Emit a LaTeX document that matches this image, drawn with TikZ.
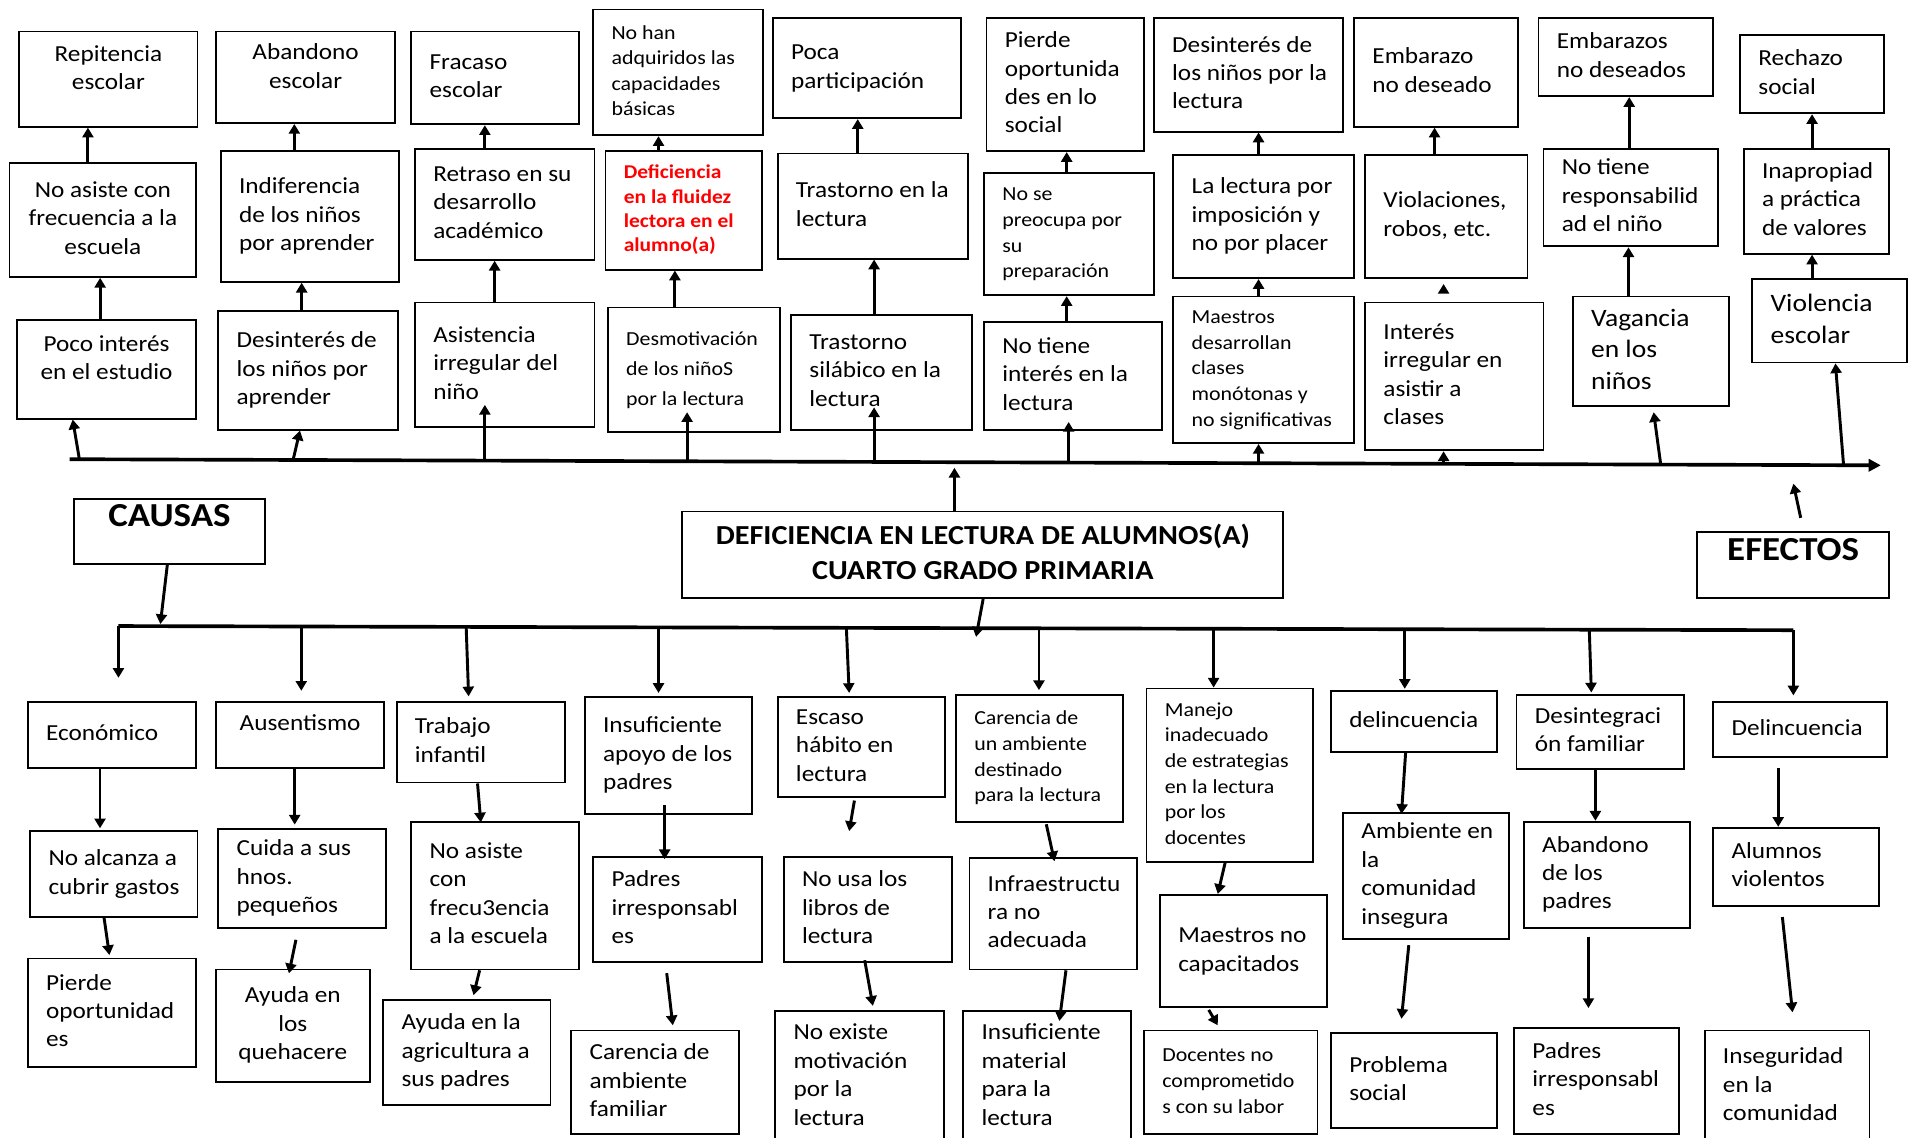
\documentclass[tikz,border=0pt]{standalone}
\usepackage{fontspec}
\setmainfont{Carlito}[FakeStretch=1.1]
\usetikzlibrary{arrows.meta,calc}
\newcommand\fN{\fontsize{18.8}{23.3}\selectfont}
\newcommand\fS{\fontsize{16.3}{21}\selectfont}
\newcommand\fSb{\fontsize{16.3}{24.5}\selectfont}
\newcommand\fR{\fontsize{16}{20}\selectfont\bfseries}
\newcommand\fB{\fontsize{20.5}{26}\selectfont}
\newcommand\fT{\fontsize{22.5}{29}\selectfont\bfseries}
\newcommand\fC{\fontsize{27.5}{30}\selectfont\bfseries}
% box: [opts]{name}{x1}{y1}{x2}{y2}{l/c}{raise}{text}
\newcommand\bxx[9][]{%
  \pgfmathsetmacro\bxxw{#5-#3}%
  \pgfmathsetmacro\bxxh{#6-#4}%
  \pgfmathsetmacro\bxxt{#5-#3-30}%
  \node[box,#1,minimum width=\bxxw pt,minimum height=\bxxh pt,anchor=north west] (#2) at (#3,#4)
    {\raisebox{#8pt}[\height][\depth]{\makebox[\bxxt pt][#7]{\begin{tabular}{@{}#7@{}}#9\end{tabular}}}};}
% connector: {from anchor}{x}{dy}{to anchor}{x}{dy}
\newcommand\cnx[6]{\draw[arr] ($(#1 -| #2,0)+(0,#3)$) -- ($(#4 -| #5,0)+(0,#6)$);}
\begin{document}
\begin{tikzpicture}[x=1pt,y=-1pt,
  box/.style={draw,line width=1.5pt,inner sep=0pt,font=\fN},
  arr/.style={line width=2.4pt,-{Triangle[width=9pt,length=8pt]}},
  lin/.style={line width=3pt}]
\useasboundingbox (0,0) rectangle (1568,931);
\fill[white] (0,0) rectangle (1568,931);

% ---------- EFFECTS: top row
\bxx[]{rep}{15}{25}{161}{103}{c}{7.5}{Repitencia\\escolar}
\bxx[]{aband}{176}{25}{323}{100}{c}{7.5}{Abandono\\escolar}
\bxx[]{fracaso}{336}{25}{473}{101}{l}{0}{Fracaso\\escolar}
\bxx[font=\fS]{nohan}{485}{7}{624}{110}{l}{0}{No han\\adquiridos las\\capacidades\\básicas}
\bxx[]{poca}{632}{14}{786}{96}{l}{0}{Poca\\participación}
\bxx[]{pierde}{807}{14}{936}{123}{l}{0}{Pierde\\oportunida\\des en lo\\social}
\bxx[]{deslect}{944}{14}{1099}{107}{l}{0}{Desinterés de\\los niños por la\\lectura}
\bxx[]{embarazo}{1108}{14}{1242}{103}{l}{0}{Embarazo\\no deseado}
\bxx[]{embarazos}{1259}{14}{1402}{78}{l}{0}{Embarazos\\no deseados}
\bxx[]{rechazo}{1424}{28}{1542}{92}{l}{0}{Rechazo\\social}

% second row
\bxx[]{noasiste}{7}{133}{160}{226}{c}{0}{No asiste con\\frecuencia a la\\escuela}
\bxx[]{indif}{180}{123}{326}{230}{l}{0}{Indiferencia\\de los niños\\por aprender}
\bxx[]{retraso}{339}{121}{486}{212}{l}{0}{Retraso en su\\desarrollo\\académico}
\bxx[font=\fR,text=red]{defic}{495}{123}{623}{220}{l}{0}{Deficiencia\\en la fluidez\\lectora en el\\alumno(a)}
\bxx[]{trasten}{636}{125}{792}{211}{l}{0}{Trastorno en la\\lectura}
\bxx[font=\fS]{nosepre}{805}{141}{944}{241}{l}{0}{No se\\preocupa por\\su\\preparación}
\bxx[]{lalect}{960}{126}{1108}{227}{l}{0}{La lectura por\\imposición y\\no por placer}
\bxx[]{violac}{1117}{126}{1250}{227}{l}{0}{Violaciones,\\robos, etc.}
\bxx[]{notresp}{1263}{121}{1406}{201}{l}{0}{No tiene\\responsabilid\\ad el niño}
\bxx[]{inaprop}{1427}{121}{1546}{207}{l}{0}{Inapropiad\\a práctica\\de valores}

% third row
\bxx[]{poco}{13}{261}{160}{342}{c}{7.5}{Poco interés\\en el estudio}
\bxx[]{desap}{178}{254}{325}{351}{l}{0}{Desinterés de\\los niños por\\aprender}
\bxx[]{asist}{339}{247}{486}{349}{l}{0}{Asistencia\\irregular del\\niño}
\bxx[font=\fSb]{desmot}{497}{251}{638}{353}{l}{0}{Desmotivación\\de los niñoS\\por la lectura}
\bxx[]{trastsil}{647}{257}{795}{351}{l}{0}{Trastorno\\silábico en la\\lectura}
\bxx[]{notint}{805}{263}{951}{351}{l}{0}{No tiene\\interés en la\\lectura}
\bxx[font=\fS]{maestros}{960}{242}{1108}{362}{l}{0}{Maestros\\desarrollan\\clases\\monótonas y\\no significativas}
\bxx[]{interes}{1117}{247}{1263}{368}{l}{0}{Interés\\irregular en\\asistir a\\clases}
\bxx[font=\fB]{vagancia}{1287}{242}{1415}{332}{l}{0}{Vagancia\\en los\\niños}
\bxx[font=\fB]{violencia}{1434}{228}{1561}{296}{l}{0}{Violencia\\escolar}

% ---------- middle
\bxx[font=\fC]{causas}{60}{408}{216}{461}{c}{10}{CAUSAS}
\bxx[font=\fT]{main}{558}{418}{1050}{489}{c}{0}{DEFICIENCIA EN LECTURA DE ALUMNOS(A)\\CUARTO GRADO PRIMARIA}
\bxx[font=\fC]{efectos}{1389}{435}{1546}{489}{c}{9.5}{EFECTOS}

% ---------- CAUSES: first row
\bxx[]{econ}{22}{574}{160}{628}{l}{0}{Económico}
\bxx[]{ausent}{176}{574}{314}{628}{c}{8}{Ausentismo}
\bxx[]{trabajo}{324}{574}{462}{640}{l}{0}{Trabajo\\infantil}
\bxx[]{insuf}{478}{570}{615}{666}{l}{0}{Insuficiente\\apoyo de los\\padres}
\bxx[]{escaso}{636}{570}{773}{652}{l}{0}{Escaso\\hábito en\\lectura}
\bxx[font=\fS]{carun}{782}{568}{919}{672}{l}{0}{Carencia de\\un ambiente\\destinado\\para la lectura}
\bxx[font=\fS]{manejo}{938}{563}{1074}{705}{l}{0}{Manejo\\inadecuado\\de estrategias\\en la lectura\\por los\\docentes}
\bxx[]{delinc}{1089}{565}{1225}{615}{l}{0}{delincuencia}
\bxx[]{desint}{1241}{568}{1378}{629}{l}{0}{Desintegraci\\ón familiar}
\bxx[]{delincb}{1402}{574}{1544}{619}{l}{0}{Delincuencia}

% second row
\bxx[]{noalc}{24}{680}{161}{750}{l}{0}{No alcanza a\\cubrir gastos}
\bxx[]{cuida}{178}{678}{315}{759}{l}{0}{Cuida a sus\\hnos.\\pequeños}
\bxx[]{noasb}{336}{672}{473}{793}{l}{0}{No asiste\\con\\frecu3encia\\a la escuela}
\bxx[]{padres}{485}{701}{623}{787}{l}{0}{Padres\\irresponsabl\\es}
\bxx[]{nousa}{641}{701}{779}{787}{l}{0}{No usa los\\libros de\\lectura}
\bxx[]{infra}{793}{702}{930}{793}{l}{0}{Infraestructu\\ra no\\adecuada}
\bxx[]{maesnc}{949}{732}{1086}{824}{l}{0}{Maestros no\\capacitados}
\bxx[]{ambiente}{1099}{665}{1235}{768}{l}{0}{Ambiente en\\la\\comunidad\\insegura}
\bxx[]{abandpad}{1247}{672}{1383}{759}{l}{0}{Abandono\\de los\\padres}
\bxx[]{alumnos}{1402}{677}{1538}{741}{l}{0}{Alumnos\\violentos}

% third row
\bxx[]{pierdeop}{22}{784}{160}{873}{l}{0}{Pierde\\oportunidad\\es}
\bxx[]{ayuda}{176}{793}{302}{885}{c}{0}{Ayuda en\\los\\quehacere}
\bxx[]{agric}{313}{818}{450}{904}{l}{0}{Ayuda en la\\agricultura a\\sus padres}
\bxx[]{carfam}{467}{843}{604}{928}{l}{0}{Carencia de\\ambiente\\familiar}
\bxx[]{noexiste}{634}{827}{772}{935}{l}{0}{No existe\\motivación\\por la\\lectura}
\bxx[]{insmat}{788}{827}{925}{935}{l}{0}{Insuficiente\\material\\para la\\lectura}
\bxx[font=\fS]{docentes}{936}{843}{1078}{928}{l}{0}{Docentes no\\comprometido\\s con su labor}
\bxx[]{problema}{1089}{845}{1225}{923}{l}{0}{Problema\\social}
\bxx[]{padresb}{1239}{841}{1374}{928}{l}{0}{Padres\\irresponsabl\\es}
\bxx[]{insegur}{1395}{843}{1530}{935}{l}{0}{Inseguridad\\en la\\comunidad}

% ---------- main effect line
\coordinate (LA) at (57,376);
\coordinate (LB) at (1540,381);
\draw[lin,-{Triangle[width=10pt,length=10pt]}] (LA) -- (LB);
\coordinate (t1) at (65,376);
\coordinate (t2) at (240,376.6);
\coordinate (t3) at (397,377.1);
\coordinate (t4) at (562.6,377.7);
\coordinate (t5) at (715.7,378.2);
\coordinate (t6) at (875,378.8);
\coordinate (t7) at (1030.5,379.3);
\coordinate (t8) at (1182,379.8);
\coordinate (t9) at (1359.8,380.4);
\coordinate (t10) at (1509.5,380.9);

\cnx{t1}{65}{0}{poco.south}{59.5}{0}
\cnx{poco.north}{82}{0}{noasiste.south}{82}{0}
\cnx{noasiste.north}{72}{0}{rep.south}{72}{0}
\cnx{t2}{240}{0}{desap.south}{245.6}{0}
\cnx{desap.north}{247}{0}{indif.south}{247}{0}
\cnx{indif.north}{241}{0}{aband.south}{241}{0}
\cnx{t3}{397}{0}{asist.south}{397}{-19}
\cnx{asist.north}{405}{0}{retraso.south}{405}{0}
\cnx{retraso.north}{397}{0}{fracaso.south}{397}{0}
\cnx{t4}{562.6}{0}{desmot.south}{562.6}{-17}
\cnx{desmot.north}{552.6}{0}{defic.south}{552.6}{0}
\cnx{defic.north}{539.2}{0}{nohan.south}{539.2}{0}
\cnx{t5}{715.7}{0}{trastsil.south}{715.7}{-19}
\cnx{trastsil.north}{715.7}{0}{trasten.south}{715.7}{0}
\cnx{trasten.north}{702.3}{0}{poca.south}{702.3}{0}
\cnx{t6}{875}{0}{notint.south}{875}{-7}
\cnx{notint.north}{873.4}{0}{nosepre.south}{873.4}{0}
\cnx{nosepre.north}{873.4}{0}{pierde.south}{873.4}{0}
\cnx{t7}{1030.5}{0}{maestros.south}{1030.5}{0}
\cnx{maestros.north}{1030.5}{0}{lalect.south}{1030.5}{0}
\cnx{lalect.north}{1030.5}{0}{deslect.south}{1030.5}{0}
\cnx{t8}{1182}{0}{interes.south}{1182}{0}
\cnx{interes.north}{1182}{-8.5}{violac.south}{1182}{4}
\cnx{violac.north}{1174.6}{0}{embarazo.south}{1174.6}{0}
\cnx{t9}{1359.8}{0}{vagancia.south}{1354}{4}
\cnx{vagancia.north}{1333.4}{0}{notresp.south}{1333.4}{0}
\cnx{notresp.north}{1334}{0}{embarazos.south}{1334}{0}
\cnx{t10}{1509.5}{0}{violencia.south}{1502.8}{0}
\cnx{violencia.north}{1483.7}{0}{inaprop.south}{1483.7}{0}
\cnx{inaprop.north}{1483.7}{0}{rechazo.south}{1483.7}{0}

% ---------- middle connectors
\coordinate (tm) at (781.5,383);
\cnx{main.north}{781.5}{0}{tm}{781.5}{0}
\coordinate (ef) at (1468.4,396);
\cnx{efectos.north}{1474.4}{-11}{ef}{1468.4}{0}

% ---------- cause line
\coordinate (BA) at (97,512.6);
\coordinate (BC) at (1468.4,516);
\draw[lin] (BA) -- (BC);
\coordinate (bc) at (131.3,511);
\cnx{causas.south}{137}{0}{bc}{131.3}{0}
\coordinate (bm) at (799.2,521.5);
\cnx{main.south}{805}{0}{bm}{799.2}{0}
\coordinate (b1) at (97,512.6);
\coordinate (b2) at (246.7,513);
\coordinate (b3) at (381.7,513.3);
\coordinate (b4) at (539.2,513.7);
\coordinate (b5) at (693,514.1);
\coordinate (b6) at (850.7,514.5);
\coordinate (b7) at (993.7,514.8);
\coordinate (b8) at (1150.2,515.2);
\coordinate (b9) at (1301.3,515.6);

\cnx{b1}{97}{0}{econ.north}{97}{-19}
\cnx{b2}{246.7}{0}{ausent.north}{246.7}{-8.4}
\cnx{b3}{381.7}{0}{trabajo.north}{383.7}{-3.8}
\cnx{b4}{539.2}{0}{insuf.north}{539.2}{-2.6}
\cnx{b5}{693}{0}{escaso.north}{695.3}{-2.6}
\cnx{b6}{850.7}{0}{carun.north}{850.7}{-2.9}
\cnx{b7}{993.7}{0}{manejo.north}{993.7}{0}
\cnx{b8}{1150.2}{0}{delinc.north}{1150.2}{-1}
\cnx{b9}{1301.3}{0}{desint.north}{1303}{-1}
\cnx{BC}{1468.4}{0}{delincb.north}{1468.4}{-4.6}

\cnx{econ.south}{81.9}{0}{noalc.north}{81.9}{-1.8}
\cnx{noalc.south}{85.2}{0}{pierdeop.north}{89.6}{-2}
\cnx{ausent.south}{241.3}{0}{cuida.north}{241.3}{-2.8}
\cnx{cuida.south}{242.3}{9}{ayuda.north}{236.6}{4}
\cnx{trabajo.south}{391}{0}{noasb.north}{393.7}{1.4}
\cnx{noasb.south}{392.7}{0}{agric.north}{387.7}{-3.2}
\cnx{insuf.south}{544.2}{-8}{padres.north}{544.2}{2.5}
\cnx{padres.south}{545.9}{8.3}{carfam.north}{550.9}{-3.5}
\cnx{escaso.south}{699.6}{2}{nousa.north}{695.3}{-20.5}
\cnx{nousa.south}{708}{-2.3}{noexiste.north}{714.7}{-3.4}
\cnx{carun.south}{856.7}{1.4}{infra.north}{863.4}{3.2}
\cnx{infra.south}{872.8}{0}{insmat.north}{867.4}{9}
\cnx{manejo.south}{1003.1}{0}{maesnc.north}{997.1}{0}
\cnx{maesnc.south}{989.7}{1.4}{docentes.north}{997.1}{-3.5}
\cnx{delinc.south}{1150.9}{0}{ambiente.north}{1147.5}{1.4}
\cnx{ambiente.south}{1153.5}{4.4}{problema.north}{1147.5}{-10.8}
\cnx{desint.south}{1306.3}{0}{abandpad.north}{1306.3}{0}
\cnx{abandpad.south}{1300.6}{6.3}{padresb.north}{1300.6}{-15.6}
\cnx{delincb.south}{1456}{8.5}{alumnos.north}{1456}{0}
\cnx{alumnos.south}{1459.4}{8.4}{insegur.north}{1467.7}{-14.1}
\end{tikzpicture}
\end{document}
